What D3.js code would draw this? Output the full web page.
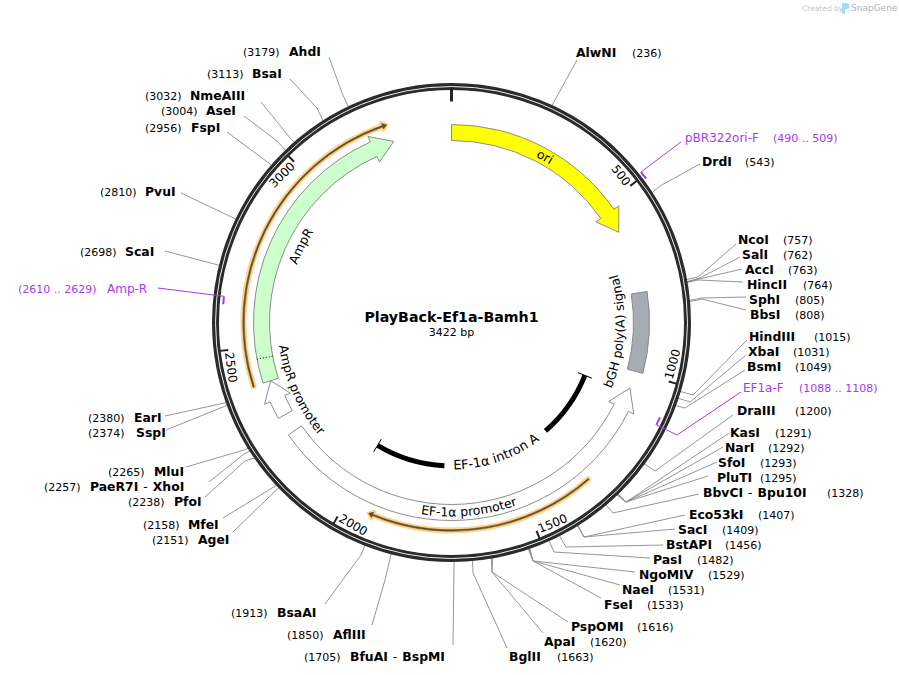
<!DOCTYPE html>
<html>
<head>
<meta charset="utf-8">
<script src="https://d3js.org/d3.v7.min.js"></script>
<style>
  html, body { margin: 0; padding: 0; background: #fff; }
  text { font-family: "DejaVu Sans", sans-serif; fill: #000; }
</style>
</head>
<body>
<div id="map"></div>
<script>
var totalBp = 3422;
var plasmidName = "PlayBack-Ef1a-Bamh1";
var plasmidSize = "3422 bp";
var tickValues = [500, 1000, 1500, 2000, 2500, 3000];

// restriction sites
var siteNames = ["AlwNI", "DrdI", "NcoI", "SalI", "AccI", "HincII", "SphI", "BbsI", "HindIII", "XbaI", "BsmI",
  "DraIII", "KasI", "NarI", "SfoI", "PluTI", "BbvCI - Bpu10I", "Eco53kI", "SacI", "BstAPI", "PasI", "NgoMIV",
  "NaeI", "FseI", "PspOMI", "ApaI", "BglII", "BfuAI - BspMI", "AflIII", "BsaAI", "AgeI", "MfeI", "PfoI",
  "PaeR7I - XhoI", "MluI", "SspI", "EarI", "ScaI", "PvuI", "FspI", "AseI", "NmeAIII", "BsaI", "AhdI"];
var sitePositions = [236, 543, 757, 762, 763, 764, 805, 808, 1015, 1031, 1049,
  1200, 1291, 1292, 1293, 1295, 1328, 1407, 1409, 1456, 1482, 1529,
  1531, 1533, 1616, 1620, 1663, 1705, 1850, 1913, 2151, 2158, 2238,
  2257, 2265, 2374, 2380, 2698, 2810, 2956, 3004, 3032, 3113, 3179];

// primers
var primerNames = ["pBR322ori-F", "EF1a-F", "Amp-R"];
var primerStarts = [490, 1088, 2610];
var primerEnds = [509, 1108, 2629];

// features
var bandNames = ["ori", "AmpR", "AmpR promoter", "EF-1α promoter", "bGH poly(A) signal"];
var bandTails = [0, 2397, 2291, 2238, 770];
var bandTips = [586, 3254, 2397, 1047, 997];
var orfTails = [2395, 1319];
var orfTips = [3249, 1934];
var intronName = "EF-1α intron A";
var intronStart = 1061;
var intronEnd = 2006;
var ampSignalEnd = 2465;

// label layout, same order as siteNames: name x, y, position x, elbow x, elbow y, leader end x, leader end y
var siteLayout = [
  [576, 53, 632, null, null, 577, 60],
  [702, 162, 745, 660, 186, 700, 164],
  [738, 240, 783, 698, 277, 736, 244],
  [742, 255, 783, 700, 278, 740, 257],
  [745, 270, 788, 699, 279, 742, 269],
  [747, 285, 803, 698, 280, 743, 282],
  [749, 300, 795, 702, 298, 746, 297],
  [750, 315, 795, 702, 299, 746, 310],
  [749, 337, 814, 693, 395, 747, 340],
  [748, 352, 793, 690, 402, 746, 355],
  [747, 367, 795, 685, 408, 745, 370],
  [737, 411, 795, 655, 471, 733, 415],
  [730, 433, 775, 626, 502, 729, 433],
  [725, 448, 768, 626, 502, 723, 447],
  [718, 463, 760, 626, 502, 717, 462],
  [717, 478, 760, 626, 502, 708, 476],
  [703, 493, 827, 613, 513, 699, 494],
  [689, 515, 758, 584, 537, 685, 515],
  [678, 530, 722, 584, 537, 675, 529],
  [666, 545, 725, 566, 547, 663, 545],
  [653, 560, 697, 554, 552, 650, 558],
  [639, 575, 708, 533, 561, 635, 572],
  [622, 590, 668, 533, 561, 620, 585],
  [604, 605, 647, 533, 561, 601, 598],
  [571, 627, 637, 492, 572, 568, 622],
  [544, 642, 590, 492, 572, 543, 633],
  [509, 657, 557, 473, 573, 507, 648],
  [350, 657, 304, null, null, 453, 645],
  [333, 635, 287, 385, 580, 372, 625],
  [277, 613, 231, 361, 555, 325, 604],
  [198, 540, 152, null, null, 233, 532],
  [188, 525, 143, null, null, 223, 518],
  [174, 502, 128, 245, 461, 205, 497],
  [90, 487, 44, 244, 454, 209, 482],
  [154, 472, 108, 244, 450, 186, 467],
  [136, 433, 88, null, null, 166, 430],
  [134, 418, 88, null, null, 165, 416],
  [125, 252, 80, null, null, 165, 251],
  [145, 192, 100, null, null, 181, 193],
  [191, 128, 145, 270, 164, 227, 132],
  [206, 111, 161, 277, 141, 244, 116],
  [190, 96, 145, 290, 138, 261, 102],
  [252, 74, 207, 317, 108, 290, 79],
  [289, 52, 243, 342, 93, 329, 57]
];
// name x, y, range x, mark radius, leader starts at range end (1) or start (0), elbow x, elbow y, leader end x, leader end y
var primerLayout = [
  [685, 138, 773, 242, 0, null, null, 681, 142],
  [743, 388, 799, 229, 1, 677, 435, 741, 392],
  [107, 289, 18, 229, 1, null, null, 158, 288]
];

var width = 899;
var height = 675;
var cx = 451.5;
var cy = 322.5;
var ringR = 236;
var bandIn = 182;
var bandOut = 198;
var purple = "#a838f0";

var svg = d3.select("#map").append("svg")
  .attr("width", width)
  .attr("height", height)
  .attr("viewBox", "0 0 " + width + " " + height)
  .style("display", "block");
var defs = svg.append("defs");

var angle = d3.scaleLinear().domain([0, totalBp]).range([0, 2 * Math.PI]);

function polar(bp, r)
{
  var a = angle(bp);
  return [cx + r * Math.sin(a), cy - r * Math.cos(a)];
}

// canvas angle used by d3.path
function canvasAngle(bp) { return angle(bp) - Math.PI / 2; }

function arrowPath(tail, tip, rIn, rOut, headBp, flare)
{
  var dir = tip > tail ? 1 : -1;
  var base = tip - dir * headBp;
  var rMid = (rIn + rOut) / 2;
  var p = d3.path();
  var a = polar(tail, rOut);
  p.moveTo(a[0], a[1]);
  p.arc(cx, cy, rOut, canvasAngle(tail), canvasAngle(base), dir < 0);
  var b = polar(base, rOut + flare);
  p.lineTo(b[0], b[1]);
  var t = polar(tip, rMid);
  p.lineTo(t[0], t[1]);
  var c = polar(base, rIn - flare);
  p.lineTo(c[0], c[1]);
  p.arc(cx, cy, rIn, canvasAngle(base), canvasAngle(tail), dir > 0);
  p.closePath();
  return p.toString();
}

// Text along a circle. clockwise=false is for labels on the lower half
function arcLabel(id, label, centreBp, spanBp, r, clockwise, size)
{
  var from = clockwise ? centreBp - spanBp : centreBp + spanBp;
  var to = clockwise ? centreBp + spanBp : centreBp - spanBp;
  var p = d3.path();
  var a = polar(from, r);
  p.moveTo(a[0], a[1]);
  p.arc(cx, cy, r, canvasAngle(from), canvasAngle(to), !clockwise);
  defs.append("path").attr("id", id).attr("d", p.toString());
  svg.append("text")
    .style("font-size", size + "px")
    .style("text-anchor", "middle")
    .append("textPath")
    .attr("href", "#" + id)
    .attr("startOffset", "50%")
    .text(label);
}

// Watermark
svg.append("text")
  .attr("x", 802).attr("y", 11)
  .style("font-size", "7.5px").style("fill", "#c4c4c4")
  .text("Created by");
svg.append("path")
  .attr("d", "M842 3h4.5a3 3 0 0 1 0 6h-1.5v3.5a1.5 1.5 0 0 1-3 0z")
  .style("fill", "#9fdcf5");
svg.append("text")
  .attr("x", 851).attr("y", 11)
  .style("font-size", "9px").style("fill", "#b0b4b8")
  .text("SnapGene");

// Leader lines
siteNames.forEach(function(name, i) {
  var l = siteLayout[i];
  var pts = [polar(sitePositions[i], ringR + 2)];
  if (l[3] !== null) pts.push([l[3], l[4]]);
  pts.push([l[5], l[6]]);
  svg.append("path")
    .attr("d", d3.line()(pts))
    .style("fill", "none")
    .style("stroke", "#8a8a8a")
    .style("stroke-width", "0.9");
});

// Backbone
svg.append("circle").attr("cx", cx).attr("cy", cy).attr("r", ringR)
  .style("fill", "none").style("stroke", "#2b2b2b").style("stroke-width", 7);
svg.append("circle").attr("cx", cx).attr("cy", cy).attr("r", ringR)
  .style("fill", "none").style("stroke", "#fff").style("stroke-width", 0.9);

// Ticks
var zeroTick = polar(0, ringR - 2);
var zeroTickIn = polar(0, ringR - 15);
svg.append("line")
  .attr("x1", zeroTick[0]).attr("y1", zeroTick[1])
  .attr("x2", zeroTickIn[0]).attr("y2", zeroTickIn[1])
  .style("stroke", "#222").style("stroke-width", 3);

tickValues.forEach(function(v) {
  var p1 = polar(v, ringR - 3);
  var p2 = polar(v, ringR - 11);
  svg.append("line")
    .attr("x1", p1[0]).attr("y1", p1[1])
    .attr("x2", p2[0]).attr("y2", p2[1])
    .style("stroke", "#222").style("stroke-width", 2);
  var deg = angle(v) * 180 / Math.PI;
  var flip = deg > 90 && deg < 270;
  var at = polar(v - 6, ringR - 7);
  svg.append("text")
    .attr("transform", "translate(" + at[0] + "," + at[1] + ") rotate(" + (flip ? deg - 180 : deg) + ")")
    .attr("dy", flip ? "-0.05em" : "0.75em")
    .style("font-size", "12px")
    .style("text-anchor", flip ? "start" : "end")
    .text(v);
});

// Feature bands
var bandFills = ["#ffff00", "#ccffcc", "#ffffff", "#ffffff", "#a6acb3"];
bandNames.forEach(function(name, i) {
  var isBox = name == "bGH poly(A) signal";
  svg.append("path")
    .attr("d", arrowPath(bandTails[i], bandTips[i], bandIn, bandOut, isBox ? 0 : (bandNames[i] == "AmpR promoter" ? 55 : 62), isBox ? 0 : 6))
    .style("fill", bandFills[i])
    .style("stroke", "#808080")
    .style("stroke-width", 0.9);
});

// AmpR signal peptide divider
var dot1 = polar(ampSignalEnd, bandIn);
var dot2 = polar(ampSignalEnd, bandOut);
svg.append("line")
  .attr("x1", dot1[0]).attr("y1", dot1[1])
  .attr("x2", dot2[0]).attr("y2", dot2[1])
  .style("stroke", "#000").style("stroke-width", 1).style("stroke-dasharray", "1,2");

// ORF arrows, halo first
orfTails.forEach(function(tail, i) {
  svg.append("path")
    .attr("d", arrowPath(tail, orfTips[i], 207, 209, 12, 2.6))
    .style("fill", "#ffd48a")
    .style("stroke", "#ffd48a")
    .style("stroke-width", 4)
    .style("stroke-linejoin", "round");
  svg.append("path")
    .attr("d", arrowPath(tail, orfTips[i], 207.3, 208.7, 11, 2.2))
    .style("fill", "#5f4d33")
    .style("stroke", "#5f4d33")
    .style("stroke-width", 0.6);
});

// Intron arc, split for its label
var intronParts = [[intronStart, 1322], [1738, intronEnd]];
var intronR = 143.5;
intronParts.forEach(function(part, i) {
  var p = d3.path();
  var a = polar(part[0], intronR);
  p.moveTo(a[0], a[1]);
  p.arc(cx, cy, intronR, canvasAngle(part[0]), canvasAngle(part[1]), false);
  svg.append("path").attr("d", p.toString())
    .style("fill", "none").style("stroke", "#000").style("stroke-width", 5);
});
[intronStart, intronEnd].forEach(function(bp) {
  var p1 = polar(bp, 136);
  var p2 = polar(bp, 151);
  svg.append("line")
    .attr("x1", p1[0]).attr("y1", p1[1])
    .attr("x2", p2[0]).attr("y2", p2[1])
    .style("stroke", "#000").style("stroke-width", 1);
});

// Feature labels
arcLabel("lb-ori", bandNames[0], 280, 120, 186, true, 12.5);
arcLabel("lb-ampr", bandNames[1], 2822, 200, 165, true, 12.5);
arcLabel("lb-amprp", bandNames[2], 2338, 330, 174, false, 12.5);
arcLabel("lb-ef1p", bandNames[3], 1660, 300, 194, false, 12.5);
arcLabel("lb-bgh", bandNames[4], 885, 270, 173, false, 12.5);
arcLabel("lb-intron", intronName, 1532, 320, 147, false, 13);

// Primer marks and their leaders
primerNames.forEach(function(name, i) {
  var l = primerLayout[i];
  var p = d3.path();
  var r = l[3];
  var a = polar(primerStarts[i], r);
  p.moveTo(a[0], a[1]);
  p.arc(cx, cy, r, canvasAngle(primerStarts[i]), canvasAngle(primerEnds[i]), false);
  svg.append("path").attr("d", p.toString())
    .style("fill", "none").style("stroke", purple).style("stroke-width", 2);
  var pts = [polar(l[4] ? primerEnds[i] : primerStarts[i], r)];
  if (l[5] !== null) pts.push([l[5], l[6]]);
  pts.push([l[7], l[8]]);
  svg.append("path").attr("d", d3.line()(pts))
    .style("fill", "none").style("stroke", purple).style("stroke-width", 1);
  svg.append("text")
    .attr("x", l[0]).attr("y", l[1] + 3.5)
    .style("font-size", "12px").style("fill", purple)
    .text(name);
  svg.append("text")
    .attr("x", l[2]).attr("y", l[1] + 3.5)
    .style("font-size", "11px").style("fill", purple)
    .text("(" + primerStarts[i] + " .. " + primerEnds[i] + ")");
});

// Site labels
siteNames.forEach(function(name, i) {
  var l = siteLayout[i];
  var parts = name.split(" - ");
  var t = svg.append("text")
    .attr("x", l[0]).attr("y", l[1] + 3.5)
    .style("font-size", "12.4px")
    .style("font-weight", "bold");
  t.append("tspan").text(parts[0]);
  if (parts.length > 1) {
    t.append("tspan").attr("dx", 5).style("font-weight", "normal").text("-");
    t.append("tspan").attr("dx", 5).text(parts[1]);
  }
  svg.append("text")
    .attr("x", l[2]).attr("y", l[1] + 3.5)
    .style("font-size", "11px")
    .text("(" + sitePositions[i] + ")");
});

// Centre
svg.append("text")
  .attr("x", cx).attr("y", cy - 0.5)
  .style("font-size", "14.2px").style("font-weight", "bold").style("text-anchor", "middle")
  .text(plasmidName);
svg.append("text")
  .attr("x", cx).attr("y", cy + 13)
  .style("font-size", "11px").style("text-anchor", "middle")
  .text(plasmidSize);
</script>
</body>
</html>
